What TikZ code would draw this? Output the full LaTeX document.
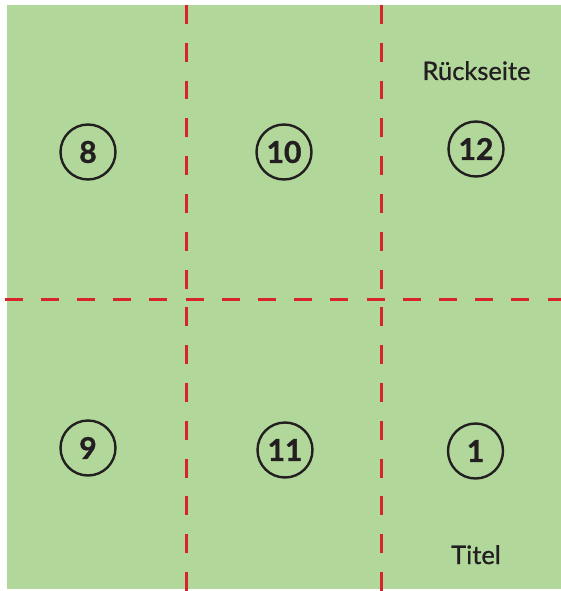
\documentclass[tikz,border=0pt]{standalone}
\usepackage{fontspec}
\setmainfont{Lato}
\newfontfamily\labelfont{Lato}[FakeBold=0.8]
\newfontfamily\numfont{Lato}[BoldFeatures={FakeBold=1.2}]
\definecolor{fieldgreen}{RGB}{177,215,155}
\definecolor{foldred}{RGB}{214,36,42}
\definecolor{inkdark}{RGB}{35,31,32}
\tikzset{
  pagenum/.style={circle, draw=inkdark, line width=2.4pt, minimum size=55pt, inner sep=0pt,
    text=inkdark, font=\fontsize{30}{30}\numfont\bfseries},
  foldline/.style={draw=foldred, line width=3pt},
  label/.style={text=inkdark, font=\fontsize{25.5}{26}\labelfont, anchor=base, inner sep=0pt}
}
\begin{document}
\begin{tikzpicture}[x=1pt,y=-1pt]
\useasboundingbox (0,0) rectangle (561,591);
\fill[fieldgreen] (7,5) rectangle (561,589);
% fold lines
\coordinate (h0) at (4.5,299.5);
\coordinate (h1) at (561,299.5);
\coordinate (v1a) at (186.3,5);
\coordinate (v1b) at (186.3,591);
\coordinate (v2a) at (381,5);
\coordinate (v2b) at (381,591);
\draw[foldline, dash pattern=on 18.9pt off 18.9pt] (v1a) -- (v1b);
\draw[foldline, dash pattern=on 18.9pt off 18.9pt] (v2a) -- (v2b);
\draw[foldline, dash pattern=on 18.1pt off 18.1pt] (h0) -- (h1);
% page numbers
\node[pagenum] (p8) at (88,152) {8};
\node[pagenum] (p10) at (284,152) {10};
\node[pagenum] (p12) at (476,149) {12};
\node[pagenum] (p9) at (88,448) {9};
\node[pagenum] (p11) at (285,450) {11};
\node[pagenum] (p1) at (475.5,451) {1};
% labels
\node[label] (back) at (476.5,80) {Rückseite};
\node[label] (title) at (476,564) {Titel};
\end{tikzpicture}
\end{document}
